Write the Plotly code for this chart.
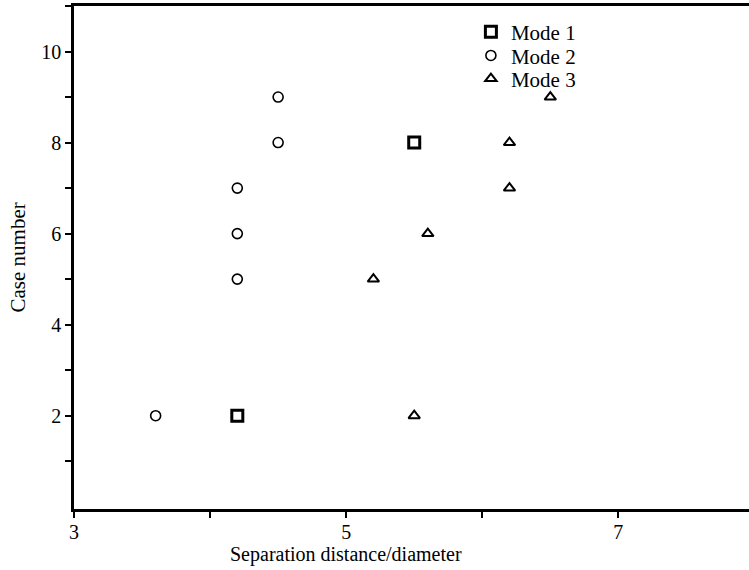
import plotly.graph_objects as go

# Data
mode1_x = [4.2, 5.5]
mode1_y = [2, 8]
mode2_x = [3.6, 4.2, 4.2, 4.2, 4.5, 4.5]
mode2_y = [2, 5, 6, 7, 8, 9]
mode3_x = [5.5, 5.2, 5.6, 6.2, 6.2, 6.5]
mode3_y = [2, 5, 6, 7, 8, 9]

x_tickvals = [3, 4, 5, 6, 7]
x_ticktext = ["3", "", "5", "", "7"]
y_tickvals = [1, 2, 3, 4, 5, 6, 7, 8, 9, 10, 11]
y_ticktext = ["", "2", "", "4", "", "6", "", "8", "", "10", ""]

FONT = "Liberation Serif"

fig = go.Figure()
fig.add_trace(go.Scatter(
    x=mode1_x, y=mode1_y, mode="markers", name="Mode 1", legend="legend",
    marker=dict(symbol="square-open", size=11, color="black",
                line=dict(width=3, color="black")),
))
fig.add_trace(go.Scatter(
    x=mode2_x, y=mode2_y, mode="markers", name="Mode 2", legend="legend2",
    marker=dict(symbol="circle-open", size=10, color="black",
                line=dict(width=1.6, color="black")),
))
fig.add_trace(go.Scatter(
    x=mode3_x, y=mode3_y, mode="markers", name="Mode 3", legend="legend3",
    marker=dict(symbol="triangle-up-open", size=10, color="black",
                line=dict(width=2, color="black")),
))

leg_common = dict(x=0.588, xanchor="left", yanchor="middle",
                  bgcolor="rgba(0,0,0,0)", font=dict(family=FONT, size=21))

fig.update_layout(
    width=749, height=570,
    margin=dict(l=74, r=0, t=6, b=61),
    paper_bgcolor="white", plot_bgcolor="white",
    font=dict(family=FONT, size=20, color="black"),
    showlegend=True,
    legend=dict(y=0.948, **leg_common),
    legend2=dict(y=0.901, **leg_common),
    legend3=dict(y=0.855, **leg_common),
    xaxis=dict(range=[3, 7.96], tickmode="array", tickvals=x_tickvals,
               ticktext=x_ticktext, ticks="outside", ticklen=6, tickwidth=2,
               tickcolor="black", showline=True, linewidth=2.5, linecolor="black",
               mirror=True, showgrid=False, zeroline=False,
               ticklabelstandoff=-3,
               tickfont=dict(family=FONT, size=20)),
    yaxis=dict(range=[-0.05, 11.0], tickmode="array", tickvals=y_tickvals,
               ticktext=y_ticktext, ticks="outside", ticklen=6, tickwidth=2,
               tickcolor="black", showline=True, linewidth=2.5, linecolor="black",
               showgrid=False, zeroline=False,
               tickfont=dict(family=FONT, size=20)),
    annotations=[
        dict(text="Separation distance/diameter", x=5, xref="x",
             y=-0.063, yref="paper", yanchor="top", showarrow=False,
             font=dict(family=FONT, size=20)),
        dict(text="Case number", x=-0.083, xref="paper", xanchor="center",
             y=0.5, yref="paper", textangle=-90, showarrow=False,
             font=dict(family=FONT, size=21)),
    ],
)

fig.write_html("out.html")
